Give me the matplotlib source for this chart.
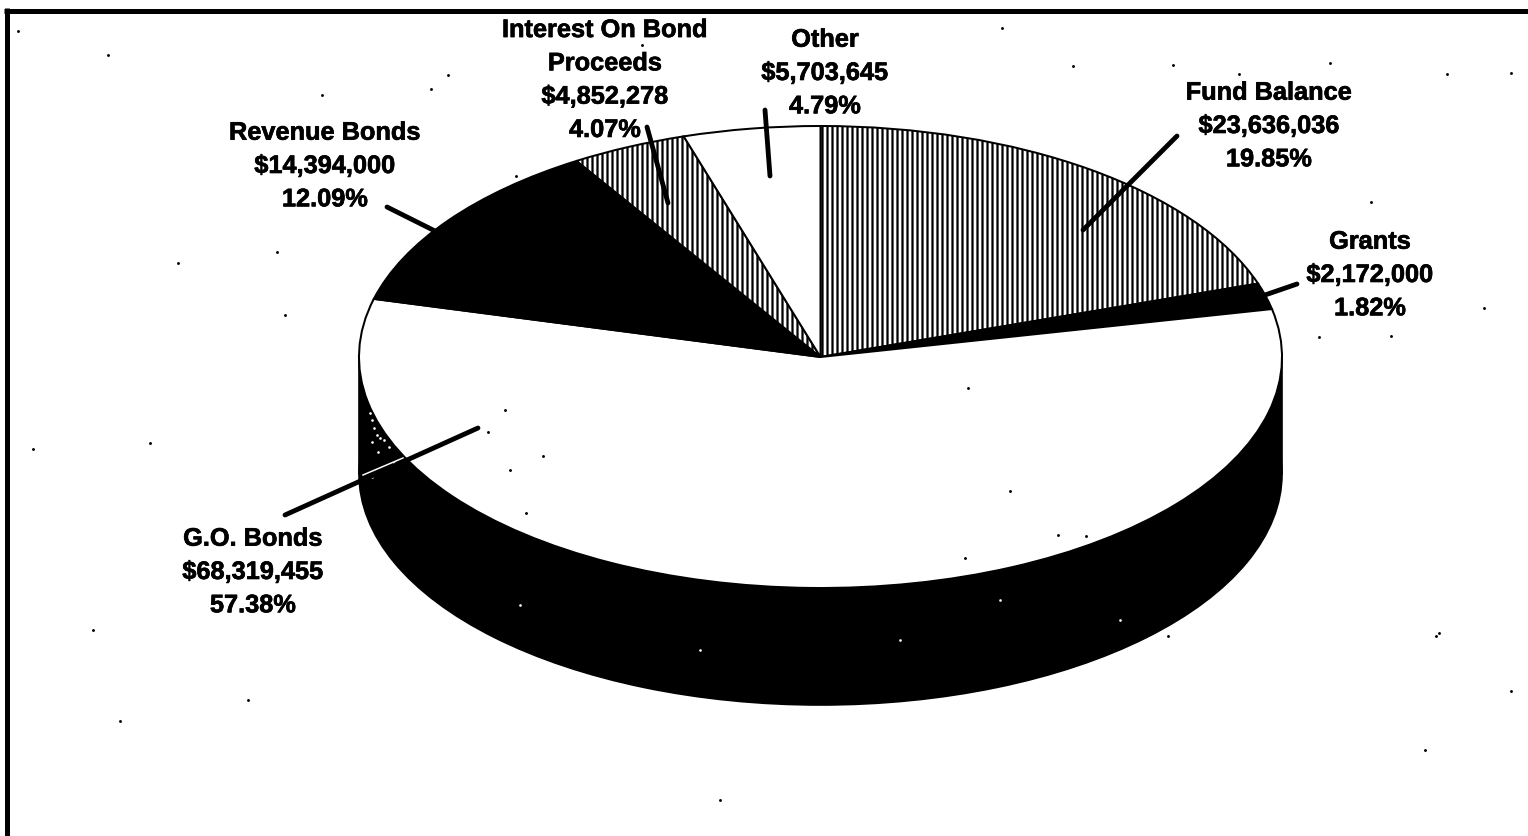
import numpy as np
import matplotlib
matplotlib.use('Agg')
import matplotlib.pyplot as plt
import matplotlib.patheffects as pe

plt.rcParams['font.family'] = ['Liberation Sans', 'DejaVu Sans']
plt.rcParams['hatch.linewidth'] = 1.35

# funding sources, clockwise from the top of the pie
names = ['Fund Balance', 'Grants', 'G.O. Bonds', 'Revenue Bonds',
         'Interest On Bond\nProceeds', 'Other']
amounts = [23636036, 2172000, 68319455, 14394000, 4852278, 5703645]
percents = [19.85, 1.82, 57.38, 12.09, 4.07, 4.79]
fills = ['white', 'black', 'white', 'black', 'white', 'white']
hatches = ['||||', None, None, None, '||||', None]

# label centres and leader lines, in pixels
label_xy = [(1269, 125), (1370, 274), (253, 571), (325, 165), (605, 79), (825, 72)]
leaders = [((1177, 136), (1083, 230)),
           ((1297, 284), (1265, 295)),
           ((285, 515), (478, 428)),
           ((387, 207), (437, 232)),
           ((647, 127), (668, 203)),
           ((765, 110), (770, 176))]

# scanner dust
dust_x = [18, 108, 322, 431, 448, 516, 642, 1002, 1073, 1173, 1239, 1330, 1447, 1511,
          1371, 1391, 1319, 1484, 1439, 1168, 1086, 965, 1010, 1058, 968, 505, 488, 526,
          178, 277, 285, 150, 33, 93, 120, 510, 543, 1436, 1511, 1425, 1360, 790, 248, 720]
dust_y = [31, 55, 95, 89, 75, 176, 45, 28, 66, 65, 74, 63, 74, 73,
          202, 336, 337, 308, 633, 636, 536, 558, 491, 535, 388, 410, 432, 513,
          263, 252, 315, 443, 449, 630, 721, 470, 456, 636, 691, 750, 240, 625, 700, 800]
speck_x = [370, 372, 374, 377, 380, 372, 384, 389, 378, 394, 372, 520, 700, 900, 1000, 1120]
speck_y = [413, 420, 428, 435, 438, 442, 440, 447, 452, 463, 477, 605, 650, 640, 600, 620]

W, H = 1528, 836
DPI = 120
cx, cy, rx, ry = 820.5, 357, 461.5, 231
depth = 117 / ry

fig = plt.figure(figsize=(W / DPI, H / DPI), dpi=DPI, facecolor='white')

# pie axes: the unit circle is squashed into an ellipse by the limits
ax = fig.add_axes([0, 0, 1, 1])
ax.pie([1], colors=['black'], center=(0, -depth), radius=1,
       wedgeprops={'edgecolor': 'black', 'linewidth': 1})
ax.add_patch(plt.Rectangle((-1, -depth), 2, depth, color='black', lw=1))
ax.pie(amounts, colors=fills, hatch=hatches, startangle=90, counterclock=False,
       radius=1, wedgeprops={'edgecolor': 'black', 'linewidth': 1.2})
ax.set_aspect('auto')
ax.set_xlim(-cx / rx, (W - cx) / rx)
ax.set_ylim((cy - H) / ry, cy / ry)
ax.axis('off')

# overlay in pixel coordinates for the frame, leaders and labels
ov = fig.add_axes([0, 0, 1, 1])
ov.set_xlim(0, W)
ov.set_ylim(H, 0)
ov.axis('off')
ov.patch.set_alpha(0)

ov.plot([6.5, 6.5], [H, 8], color='black', lw=3.0, solid_capstyle='butt')
ov.plot([4, W], [10.5, 10.5], color='black', lw=3.0, solid_capstyle='butt')

ov.plot([363, 403], [475, 458], color='white', lw=0.9)
for (p0, p1) in leaders:
    ov.plot([p0[0], p1[0]], [p0[1], p1[1]], color='black', lw=2.9, solid_capstyle='round')

ov.scatter(dust_x, dust_y, s=3.0, color='black', linewidths=0)
ov.scatter(speck_x, speck_y, s=2.5, color='white', linewidths=0)

for name, amt, pct, (x, y) in zip(names, amounts, percents, label_xy):
    t = ov.text(x, y + 1, f'{name}\n${amt:,}\n{pct:.2f}%', ha='center', va='center',
                fontsize=15.2, fontweight='bold', color='black', linespacing=1.49)
    t.set_path_effects([pe.withStroke(linewidth=0.4, foreground='black')])

fig.savefig('out.png', dpi=DPI)
